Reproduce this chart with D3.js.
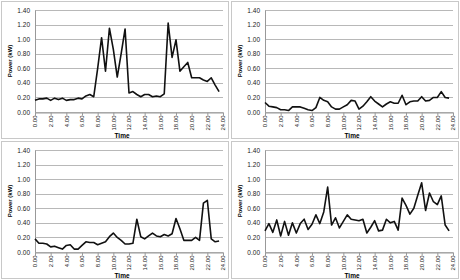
<!DOCTYPE html>
<html>
<head>
<meta charset="utf-8">
<style>
  body { margin: 0; background: #fff; }
  svg { display: block; font-family: "Liberation Sans", Arial, sans-serif; }
  .grid line { stroke: #b8b8b8; stroke-width: 1; }
  .tick text { fill: #222; }
</style>
</head>
<body>
<svg id="chart"></svg>
<script src="https://d3js.org/d3.v7.min.js"></script>
<script>
// time of day in hours, half-hourly
var times = [0, 0.5, 1, 1.5, 2, 2.5, 3, 3.5, 4, 4.5, 5, 5.5, 6, 6.5, 7, 7.5,
  8, 8.5, 9, 9.5, 10, 10.5, 11, 11.5, 12, 12.5, 13, 13.5, 14, 14.5, 15, 15.5,
  16, 16.5, 17, 17.5, 18, 18.5, 19, 19.5, 20, 20.5, 21, 21.5, 22, 22.5, 23, 23.5];

// power (kW) for each of the four panels
var house1 = [0.16, 0.18, 0.18, 0.19, 0.16, 0.19, 0.17, 0.19, 0.16, 0.17, 0.17, 0.19, 0.18, 0.22, 0.24, 0.21,
  0.60, 1.02, 0.56, 1.15, 0.86, 0.48, 0.80, 1.14, 0.26, 0.28, 0.24, 0.21, 0.24, 0.24, 0.21, 0.22,
  0.21, 0.25, 1.22, 0.75, 0.99, 0.56, 0.62, 0.68, 0.47, 0.47, 0.47, 0.44, 0.42, 0.47, 0.37, 0.28];
var house2 = [0.13, 0.08, 0.07, 0.06, 0.03, 0.03, 0.02, 0.07, 0.07, 0.07, 0.05, 0.03, 0.02, 0.06, 0.20, 0.16,
  0.14, 0.07, 0.04, 0.04, 0.07, 0.10, 0.16, 0.15, 0.04, 0.08, 0.14, 0.21, 0.15, 0.11, 0.07, 0.11,
  0.14, 0.12, 0.12, 0.23, 0.10, 0.14, 0.15, 0.15, 0.21, 0.15, 0.16, 0.20, 0.20, 0.28, 0.20, 0.19];
var house3 = [0.18, 0.12, 0.12, 0.11, 0.07, 0.08, 0.06, 0.04, 0.09, 0.10, 0.04, 0.04, 0.09, 0.14, 0.13, 0.13,
  0.10, 0.12, 0.14, 0.21, 0.26, 0.20, 0.16, 0.11, 0.11, 0.12, 0.45, 0.21, 0.18, 0.22, 0.26, 0.22,
  0.21, 0.24, 0.22, 0.25, 0.46, 0.32, 0.16, 0.16, 0.16, 0.20, 0.16, 0.67, 0.71, 0.18, 0.14, 0.15];
var house4 = [0.29, 0.39, 0.27, 0.44, 0.22, 0.42, 0.23, 0.40, 0.26, 0.39, 0.45, 0.31, 0.38, 0.51, 0.39, 0.55,
  0.89, 0.37, 0.47, 0.33, 0.42, 0.51, 0.45, 0.44, 0.43, 0.45, 0.26, 0.34, 0.43, 0.29, 0.30, 0.45,
  0.40, 0.42, 0.30, 0.74, 0.64, 0.52, 0.60, 0.78, 0.95, 0.57, 0.81, 0.69, 0.65, 0.77, 0.37, 0.29];

var yTicks = [0, 0.2, 0.4, 0.6, 0.8, 1.0, 1.2, 1.4];
var xTicks = [0, 2, 4, 6, 8, 10, 12, 14, 16, 18, 20, 22, 24];

var width = 460, height = 280;
var svg = d3.select('#chart').attr('width', width).attr('height', height);

// panel frames: x, y offsets
var panels = [
  { x: 0, y: 0, data: house1 },
  { x: 230, y: 0, data: house2 },
  { x: 0, y: 140, data: house3 },
  { x: 230, y: 140, data: house4 }
];
var margin = { top: 10, right: 7, bottom: 28, left: 35 };
var pw = 230, ph = 140;
var innerW = pw - margin.left - margin.right;
var innerH = ph - margin.top - margin.bottom;

var xScale = d3.scaleLinear().domain([0, 24]).range([0, innerW]);
var yScale = d3.scaleLinear().domain([0, 1.4]).range([innerH, 0]);

panels.forEach(function (p) {
  var g = svg.append('g').attr('transform', 'translate(' + p.x + ',' + p.y + ')');

  g.append('rect')
    .attr('x', 1.5).attr('y', 1.5)
    .attr('width', pw - 3).attr('height', ph - 3)
    .attr('fill', '#fff')
    .attr('stroke', '#c8c8c8');

  var plot = g.append('g').attr('transform', 'translate(' + margin.left + ',' + margin.top + ')');

  // gridlines
  plot.append('g').attr('class', 'grid')
    .selectAll('line')
    .data(yTicks)
    .enter().append('line')
    .attr('x1', 0).attr('x2', innerW)
    .attr('y1', function (d) { return Math.round(yScale(d)) + 0.5; })
    .attr('y2', function (d) { return Math.round(yScale(d)) + 0.5; });

  var yAxis = d3.axisLeft(yScale).tickValues(yTicks).tickSize(0).tickPadding(5)
    .tickFormat(d3.format('.2f'));
  plot.append('g').call(yAxis)
    .call(function (a) { a.select('.domain').attr('stroke', '#999'); })
    .selectAll('text').attr('font-size', 6.5);

  var xAxis = d3.axisBottom(xScale).tickValues(xTicks).tickSize(3)
    .tickFormat(d3.format('.2f'));
  var xa = plot.append('g').attr('transform', 'translate(0,' + (Math.round(innerH) + 0.5) + ')').call(xAxis);
  xa.select('.domain').attr('stroke', '#999');
  xa.selectAll('.tick line').attr('stroke', '#999');
  xa.selectAll('text')
    .attr('font-size', 6)
    .attr('transform', 'rotate(-90)')
    .attr('text-anchor', 'end')
    .attr('x', -3).attr('y', 0).attr('dy', '0.32em');

  var line = d3.line()
    .x(function (d, i) { return xScale(times[i]); })
    .y(function (d) { return yScale(d); });

  plot.append('path')
    .attr('d', line(p.data))
    .attr('fill', 'none')
    .attr('stroke', '#111')
    .attr('stroke-width', 1.6)
    .attr('stroke-linejoin', 'round');

  g.append('text')
    .attr('transform', 'translate(12,' + (margin.top + innerH / 2) + ') rotate(-90)')
    .attr('text-anchor', 'middle')
    .attr('font-size', 6)
    .attr('font-weight', 'bold')
    .text('Power (kW)');

  g.append('text')
    .attr('x', 122).attr('y', 138)
    .attr('text-anchor', 'middle')
    .attr('font-size', 6.5)
    .attr('font-weight', 'bold')
    .text('Time');
});
</script>
</body>
</html>
